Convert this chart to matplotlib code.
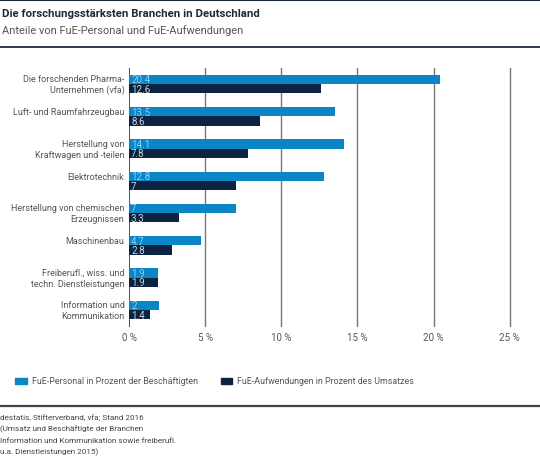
import matplotlib.pyplot as plt
import matplotlib.transforms as mtransforms
import numpy as np

plt.rcParams["font.family"] = ["Roboto", "DejaVu Sans"]

# Daten (Anteile in Prozent)
branchen = [
    "Die forschenden Pharma-\nUnternehmen (vfa)",
    "Luft- und Raumfahrzeugbau",
    "Herstellung von\nKraftwagen und -teilen",
    "Elektrotechnik",
    "Herstellung von chemischen\nErzeugnissen",
    "Maschinenbau",
    "Freiberufl., wiss. und\ntechn. Dienstleistungen",
    "Information und\nKommunikation",
]
personal = [20.4, 13.5, 14.1, 12.8, 7, 4.7, 1.9, 2]
aufwendungen = [12.6, 8.6, 7.8, 7, 3.3, 2.8, 1.9, 1.4]
ticks = [0, 5, 10, 15, 20, 25]
tick_labels = ["0 %", "5 %", "10 %", "15 %", "20 %", "25 %"]

LIGHT = "#0a86c6"
DARK = "#0c2442"
W, H = 540, 460

fig = plt.figure(figsize=(W / 100, H / 100), dpi=100)


def fx(px):
    return px / W


def fy(py):
    return 1 - py / H


# Achse: 0 % bei x=129 px, 25 % bei x=510 px
ax = fig.add_axes([fx(129), fy(328), fx(525) - fx(129), fy(69) - fy(328)])
ax.set_xlim(0, 26)
ax.set_ylim(7.53, -0.5)
for s in ax.spines.values():
    s.set_visible(False)
ax.set_xticks([])
ax.set_yticks([])

for t in ticks:
    ax.axvline(t, color="#333333" if t == 0 else "#777777", lw=1.2 if t == 0 else 1.0, zorder=0)

y = np.arange(len(branchen))
h = 0.29
ax.barh(y - h / 2, personal, height=h, color=LIGHT, zorder=2)
ax.barh(y + h / 2, aufwendungen, height=h, color=DARK, zorder=2)

off = mtransforms.offset_copy(ax.transData, fig=fig, x=2, y=0, units="dots")
for i in range(len(branchen)):
    ax.text(0, y[i] - h / 2, f"{personal[i]:g}", transform=off, color="#8fd0f2",
            fontsize=7, va="center", ha="left", zorder=3)
    ax.text(0, y[i] + h / 2, f"{aufwendungen[i]:g}", transform=off, color="#c9d2dc",
            fontsize=7, va="center", ha="left", zorder=3)
    lines = branchen[i].split("\n")
    if len(lines) == 1:
        ax.text(-0.3, y[i] - h / 2, lines[0], color="#555555", fontsize=6.5,
                ha="right", va="center", clip_on=False)
    else:
        for k, line in enumerate(lines):
            ax.text(-0.3, y[i] + (k - 0.5) * 0.34, line, color="#555555", fontsize=6.5,
                    ha="right", va="center", clip_on=False)

for t, lab in zip(ticks, tick_labels):
    ax.text(t, 7.53, lab, color="#555555", fontsize=7, ha="center", va="center",
            transform=mtransforms.offset_copy(ax.transData, fig=fig, x=0, y=-10, units="dots"))

# Titel
fig.text(fx(2), fy(14), "Die forschungsstärksten Branchen in Deutschland", fontsize=8.2,
         fontweight="bold", color="#1b2a3a", va="center", ha="left")
fig.text(fx(2), fy(31), "Anteile von FuE-Personal und FuE-Aufwendungen", fontsize=7.9,
         color="#555555", va="center", ha="left")

# Trennlinien
for py, c, lw in [(1, "#1b2a3a", 1.5), (48, "#1b2a3a", 1.3), (407, "#444444", 1.6)]:
    fig.add_artist(plt.Line2D([0, 1], [fy(py), fy(py)], color=c, lw=lw, transform=fig.transFigure))

# Legende
fig.patches.append(plt.Rectangle((fx(15), fy(385)), fx(12), 6 / H, color=LIGHT,
                                 transform=fig.transFigure))
fig.text(fx(32), fy(382), "FuE-Personal in Prozent der Beschäftigten", fontsize=6.4,
         color="#555555", va="center", ha="left")
fig.patches.append(plt.Rectangle((fx(221), fy(385)), fx(11), 6 / H, color=DARK,
                                 transform=fig.transFigure))
fig.text(fx(237), fy(382), "FuE-Aufwendungen in Prozent des Umsatzes", fontsize=6.4,
         color="#555555", va="center", ha="left")

# Quelle
quelle = [
    "destatis, Stifterverband, vfa; Stand 2016",
    "(Umsatz und Beschäftigte der Branchen",
    "Information und Kommunikation sowie freiberufl.",
    "u.a. Dienstleistungen 2015)",
]
for k, line in enumerate(quelle):
    fig.text(fx(0), fy(418 + k * 11.3), line, fontsize=5.9, color="#444444",
             va="center", ha="left")

fig.savefig("out.png", dpi=100)
